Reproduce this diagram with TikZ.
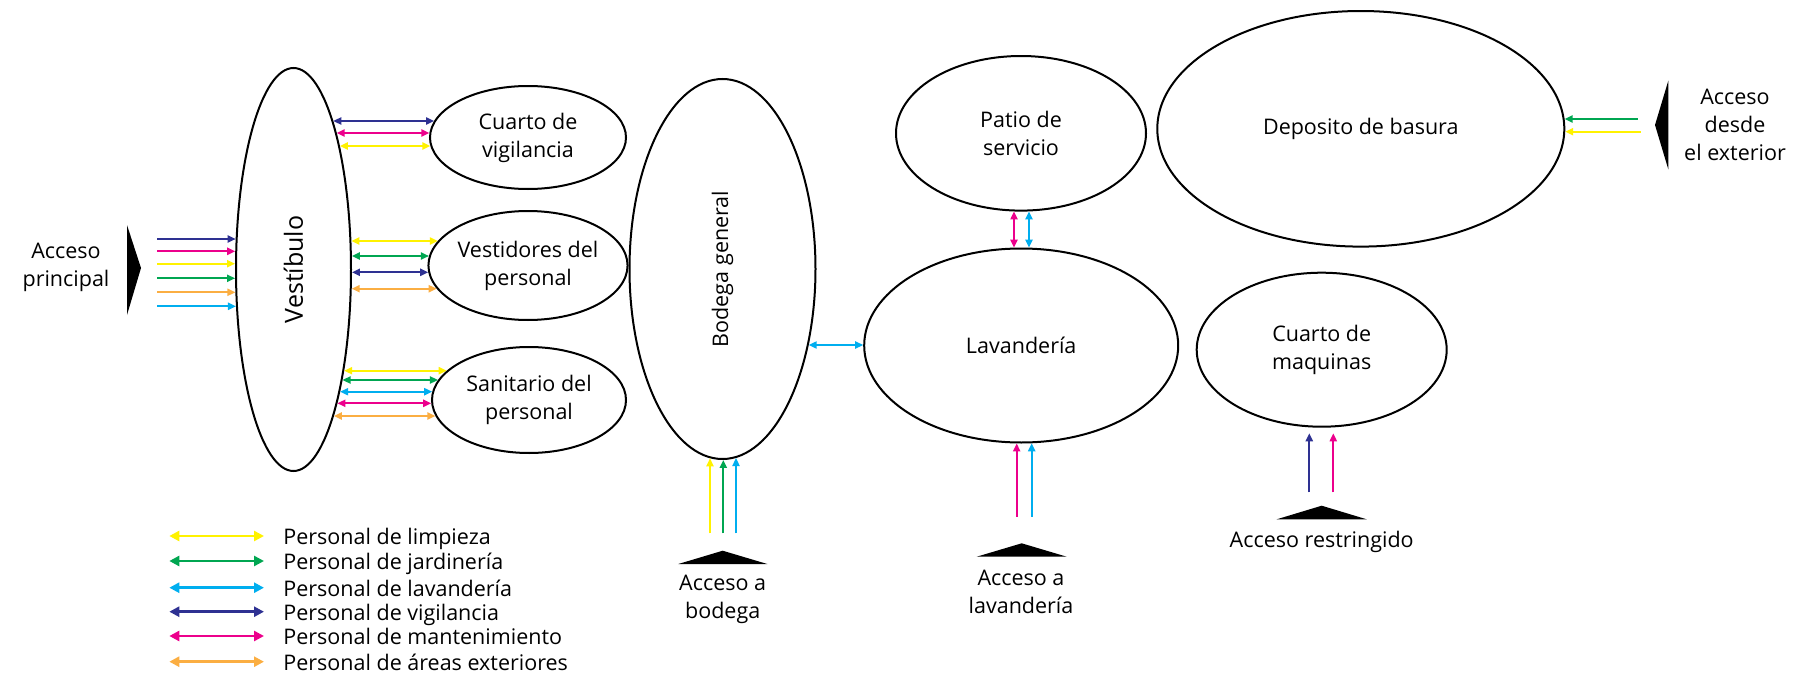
\documentclass[tikz,border=0pt]{standalone}
\usepackage{fontspec}
\usepackage{graphicx}
\setmainfont{Open Sans}
\usetikzlibrary{shapes.geometric,arrows.meta,calc}
\definecolor{cY}{HTML}{FFF200}
\definecolor{cG}{HTML}{00A651}
\definecolor{cC}{HTML}{00AEEF}
\definecolor{cN}{HTML}{2E3192}
\definecolor{cM}{HTML}{EC008C}
\definecolor{cO}{HTML}{FBAE42}
% horizontal link between two elliptic nodes at level y (px)
\newcommand\hlr[4]{\draw[#1] let \p0=(0,#4), \p1=(#2.center), \p2=(#2.east), \p3=(#2.north),
  \p4=(#3.center), \p5=(#3.west), \p6=(#3.north) in
  ({\x1+(\x2-\x1)*sqrt(1-((\y0-\y1)/(\y3-\y1))^2)}, \y0) --
  ({\x4+(\x5-\x4)*sqrt(1-((\y0-\y4)/(\y6-\y4))^2)}, \y0);}
% horizontal arrow from a coordinate to the side (#4 = east/west) of an elliptic node
\newcommand\hto[4]{\draw[#1] let \p0=(#2), \p1=(#3.center), \p2=(#3.#4), \p3=(#3.north) in
  (\p0) -- ({\x1+(\x2-\x1)*sqrt(1-((\y0-\y1)/(\y3-\y1))^2)}, \y0);}
% vertical arrow from a coordinate to the top/bottom (#4 = north/south) of an elliptic node
\newcommand\vto[4]{\draw[#1] let \p0=(#2), \p1=(#3.center), \p2=(#3.#4), \p3=(#3.east) in
  (\p0) -- (\x0, {\y1+(\y2-\y1)*sqrt(1-((\x0-\x1)/(\x3-\x1))^2)});}
% vertical link between two elliptic nodes at abscissa x (px)
\newcommand\vlr[4]{\draw[#1] let \p0=(#4,0), \p1=(#2.center), \p2=(#2.south), \p3=(#2.east),
  \p4=(#3.center), \p5=(#3.north), \p6=(#3.east) in
  (\x0, {\y1+(\y2-\y1)*sqrt(1-((\x0-\x1)/(\x3-\x1))^2)}) --
  (\x0, {\y4+(\y5-\y4)*sqrt(1-((\x0-\x4)/(\x6-\x4))^2)});}
\begin{document}
\begin{tikzpicture}[x=0.5pt,y=-0.5pt,
  room/.style={draw=black, line width=1pt, ellipse, inner sep=0pt, align=center,
    font=\fontsize{10.75}{14}\selectfont},
  lbl/.style={align=center, inner sep=0pt, font=\fontsize{10.75}{14}\selectfont},
  legtxt/.style={anchor=base west, inner sep=0pt, font=\fontsize{10.75}{14}\selectfont},
  lnk/.style={line width=0.85pt, {Triangle[length=4pt,width=3.6pt]}-{Triangle[length=4pt,width=3.6pt]}},
  inarr/.style={line width=0.85pt, -{Triangle[length=4pt,width=3.6pt]}},
  legarr/.style={line width=1.4pt, {Triangle[length=5pt,width=5pt]}-{Triangle[length=5pt,width=5pt]}},
  acc/.style={fill=black}
]
\useasboundingbox (0,0) rectangle (1796,680);

% rooms
\node[room, minimum width=57.5pt, minimum height=201.5pt, font=\fontsize{12.5}{14}\selectfont] (vest) at (293.5,269.5) {\rotatebox{90}{Vestíbulo}};
\node[room, minimum width=98pt, minimum height=51.5pt] (vig) at (528,137.5) {Cuarto de\\vigilancia};
\node[room, minimum width=97pt, minimum height=54.5pt] (vestd) at (528,265.5) {Vestidores del\\personal};
\node[room, minimum width=97pt, minimum height=53pt] (sanit) at (529,400) {Sanitario del\\personal};
\node[room, minimum width=93pt, minimum height=190pt] (bod) at (722.5,269) {\rotatebox{90}{Bodega general}};
\node[room, minimum width=125pt, minimum height=77.3pt] (patio) at (1021,133.3) {Patio de\\servicio};
\node[room, minimum width=157pt, minimum height=97pt] (lav) at (1021.2,345.5) {Lavandería};
\node[room, minimum width=203.5pt, minimum height=117.8pt] (dep) at (1360.8,128.8) {Deposito de basura};
\node[room, minimum width=125pt, minimum height=77pt] (maq) at (1321.7,349.7) {Cuarto de\\maquinas};

% access markers
\fill[acc] (127,225) -- (141,268) -- (127,315) -- cycle;
\fill[acc] (678.3,564) -- (722.7,550.7) -- (767.3,564) -- cycle;
\fill[acc] (976.7,556.7) -- (1021.7,543.3) -- (1066.7,556.7) -- cycle;
\fill[acc] (1276.7,519.3) -- (1321.7,505.7) -- (1366.7,519.3) -- cycle;
\fill[acc] (1668.3,80.7) -- (1655,125) -- (1668.3,169.3) -- cycle;

\node[lbl] (accp) at (66,267) {Acceso\\principal};
\node[lbl] (accb) at (722.7,599) {Acceso a\\bodega};
\node[lbl] (accl) at (1021,591.7) {Acceso a\\lavandería};
\node[lbl] (accr) at (1321.7,541.7) {Acceso restringido};
\node[lbl] (acce) at (1735,125.2) {Acceso\\desde\\el exterior};

% free ends
\coordinate (e1) at (157,239);
\coordinate (e2) at (157,251.3);
\coordinate (e3) at (157,263.7);
\coordinate (e4) at (157,278.3);
\coordinate (e5) at (157,292.3);
\coordinate (e6) at (157,306.3);
\coordinate (b1) at (710,533.3);
\coordinate (b2) at (723.3,533.3);
\coordinate (b3) at (736,533.3);
\coordinate (l1) at (1016.7,516.7);
\coordinate (l2) at (1031.7,516.7);
\coordinate (m1) at (1309.3,492.3);
\coordinate (m2) at (1333.3,492.3);
\coordinate (d1) at (1637.7,119);
\coordinate (d2) at (1640.7,131.7);

% main entrance
\hto{inarr,cN}{e1}{vest}{west}
\hto{inarr,cM}{e2}{vest}{west}
\hto{inarr,cY}{e3}{vest}{west}
\hto{inarr,cG}{e4}{vest}{west}
\hto{inarr,cO}{e5}{vest}{west}
\hto{inarr,cC}{e6}{vest}{west}

% vestibulo links
\hlr{lnk,cN}{vest}{vig}{121}
\hlr{lnk,cM}{vest}{vig}{133}
\hlr{lnk,cY}{vest}{vig}{146}
\hlr{lnk,cY}{vest}{vestd}{241}
\hlr{lnk,cG}{vest}{vestd}{256}
\hlr{lnk,cN}{vest}{vestd}{272.3}
\hlr{lnk,cO}{vest}{vestd}{288.7}
\hlr{lnk,cY}{vest}{sanit}{370.7}
\hlr{lnk,cG}{vest}{sanit}{380}
\hlr{lnk,cC}{vest}{sanit}{391.7}
\hlr{lnk,cM}{vest}{sanit}{403.3}
\hlr{lnk,cO}{vest}{sanit}{416}

% bodega / lavanderia / patio
\hlr{lnk,cC}{bod}{lav}{345}
\vlr{lnk,cM}{patio}{lav}{1014}
\vlr{lnk,cC}{patio}{lav}{1029}

% other accesses
\vto{inarr,cY}{b1}{bod}{south}
\vto{inarr,cG}{b2}{bod}{south}
\vto{inarr,cC}{b3}{bod}{south}
\vto{inarr,cM}{l1}{lav}{south}
\vto{inarr,cC}{l2}{lav}{south}
\vto{inarr,cN,shorten >=3pt}{m1}{maq}{south}
\vto{inarr,cM,shorten >=3pt}{m2}{maq}{south}
\hto{inarr,cG}{d1}{dep}{east}
\hto{inarr,cY}{d2}{dep}{east}

% legend
\foreach \y/\c/\t [count=\i] in {536/cY/Personal de limpieza, 561/cG/Personal de jardinería,
   587.7/cC/Personal de lavandería, 611.7/cN/Personal de vigilancia,
   636/cM/Personal de mantenimiento, 661.7/cO/Personal de áreas exteriores}{
  \coordinate (la\i) at (169.3,\y);
  \coordinate (lb\i) at (264,\y);
  \draw[legarr,\c] (la\i) -- (lb\i);
  \node[legtxt] (lt\i) at (283,\y+8.5) {\t};
}
\end{tikzpicture}
\end{document}
